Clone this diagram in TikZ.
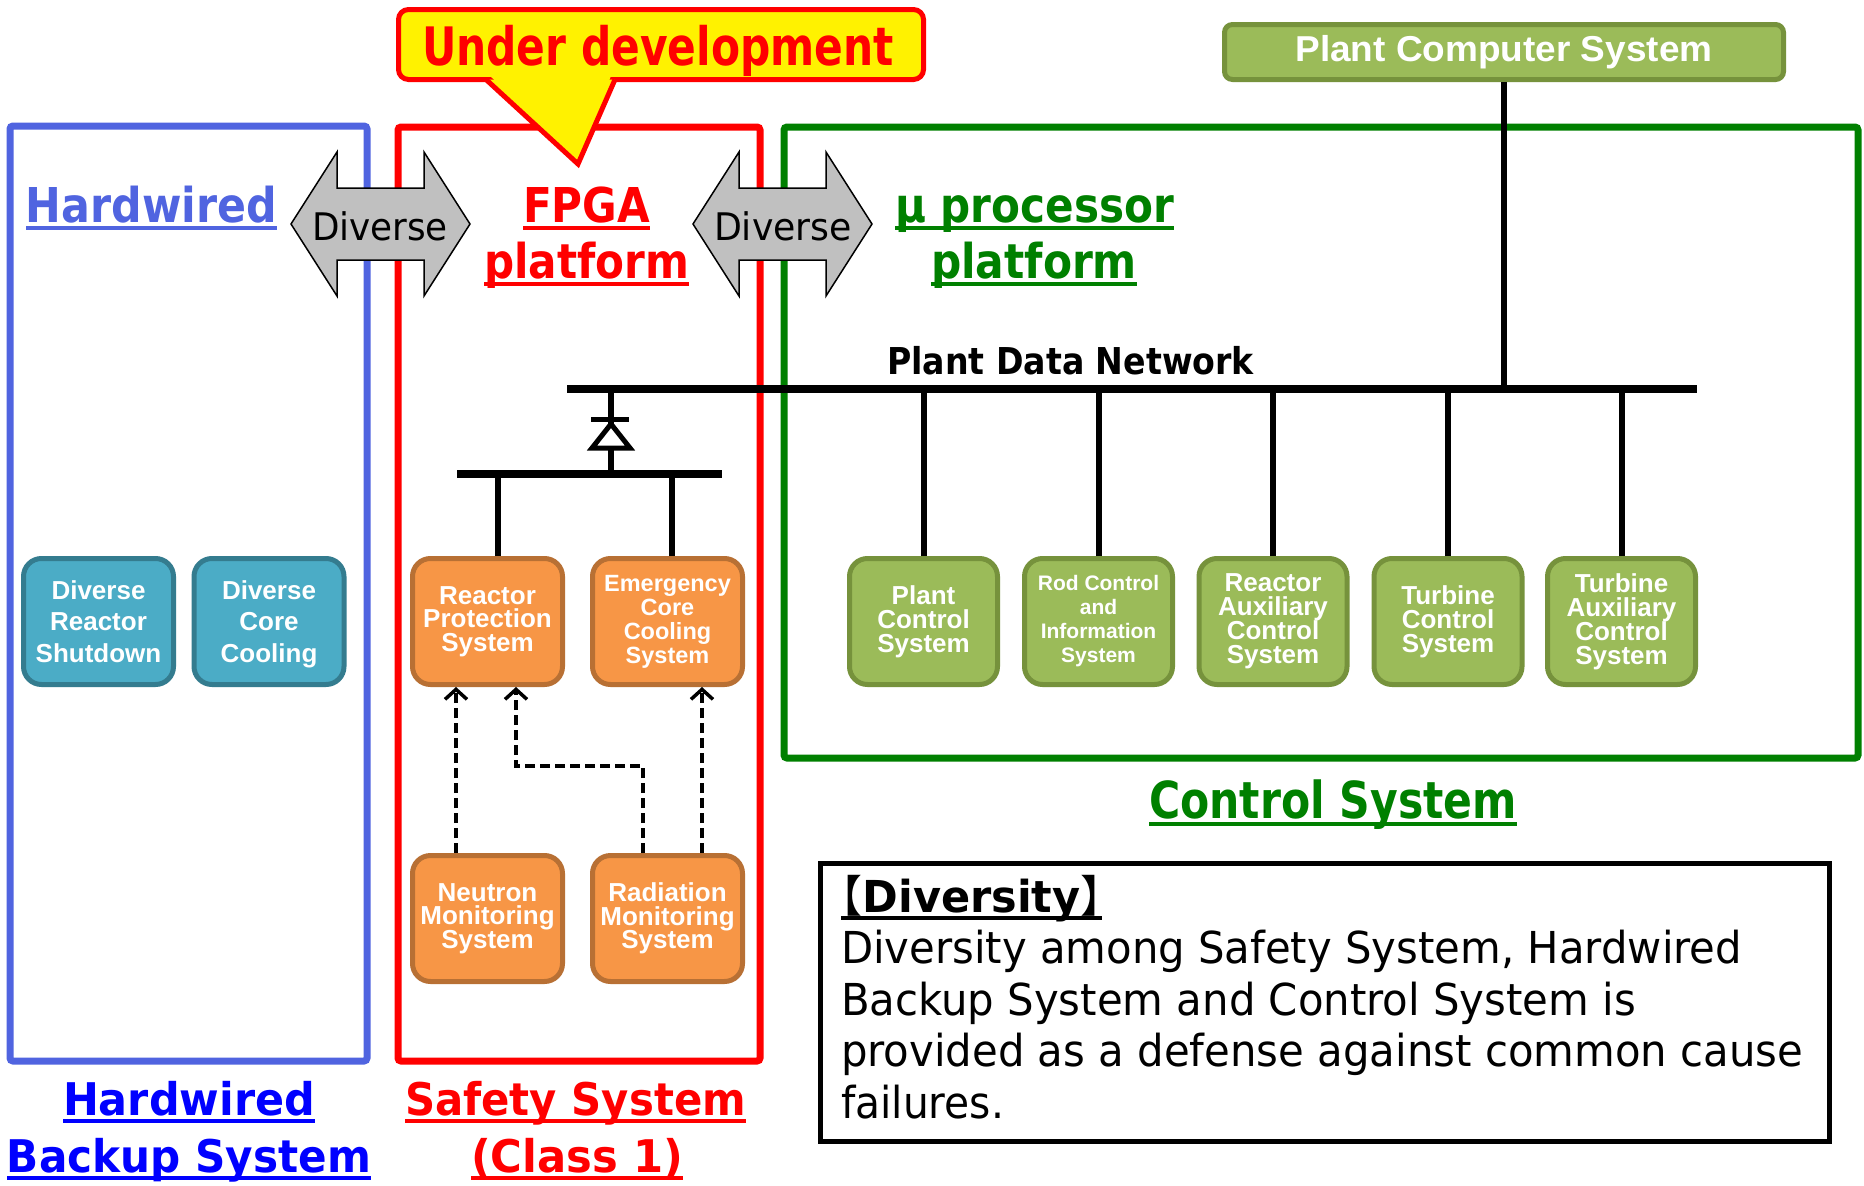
\documentclass[tikz,border=0pt]{standalone}
\usepackage{fontspec}
\usepackage{graphicx}
\setmainfont{Liberation Sans}
\newfontfamily\tah{DejaVu Sans}
\newfontfamily\cjk{Noto Sans CJK JP}
\usetikzlibrary{arrows.meta}

\definecolor{hwblue}{RGB}{80,100,224}
\definecolor{hwtext}{RGB}{0,0,255}
\definecolor{sfred}{RGB}{255,0,0}
\definecolor{csgreen}{RGB}{0,128,0}
\definecolor{tealfill}{RGB}{75,172,198}
\definecolor{tealline}{RGB}{52,124,143}
\definecolor{orgfill}{RGB}{247,150,70}
\definecolor{orgline}{RGB}{184,112,52}
\definecolor{grnfill}{RGB}{155,187,89}
\definecolor{grnline}{RGB}{118,146,60}
\definecolor{arrowgray}{RGB}{192,192,192}

% stretch a single line of text horizontally to a given width
\newcommand\fitw[2]{\resizebox{#1}{\height}{#2}}
% Tahoma-like fonts
\newcommand\tb[1]{\tah\bfseries\fontsize{#1}{#1}\selectfont}
\newcommand\tr[1]{\tah\fontsize{#1}{#1}\selectfont}
% a line whose descenders do not count for centring
\newcommand\nodepth[1]{\raisebox{0pt}[\height][0pt]{#1}}
% underline a label node
\newcommand\ulabel[2]{\draw[uline, draw=#2] ([yshift=-6pt]#1.base west) -- ([yshift=-6pt]#1.base east);}

\begin{document}
\begin{tikzpicture}[x=1pt,y=-1pt,
  lbl/.style={anchor=base west, inner sep=0pt, outer sep=0pt},
  uline/.style={line width=4.5pt},
  frame/.style={line width=7pt, rounded corners=3pt},
  sysbox/.style={draw, rounded corners=18pt, line width=5pt, minimum width=150pt,
    minimum height=126pt, inner sep=0pt, align=center, text=white},
  tealbox/.style={sysbox, fill=tealfill, draw=tealline, font=\bfseries\fontsize{26}{31.5}\selectfont},
  orgbox/.style={sysbox, fill=orgfill, draw=orgline, font=\bfseries\fontsize{26}{23.5}\selectfont},
  grnbox/.style={sysbox, minimum width=148pt, fill=grnfill, draw=grnline, font=\bfseries\fontsize{26}{24}\selectfont},
  wire/.style={line width=6pt},
  bus/.style={line width=8pt},
  dasharrow/.style={line width=3.5pt, dash pattern=on 10pt off 5pt, -{Straight Barb[length=10pt,width=22pt]}},
  diverse/.style={draw=black, line width=1.5pt, fill=arrowgray, line join=miter},
]
\lineskiplimit=-1000pt
\useasboundingbox (0,0) rectangle (1864,1186);
\fill[white] (0,0) rectangle (1864,1186);

% system frames
\draw[frame, draw=hwblue] (10,126) rectangle (367,1061);
\draw[frame, draw=sfred] (398,127) rectangle (760,1061);
\draw[frame, draw=csgreen] (784,127) rectangle (1858,758);

% "Diverse" double arrows
\draw[diverse] (291,224) -- (337,152) -- (337,188) -- (424,188) -- (424,152) -- (470,224)
  -- (424,296) -- (424,260) -- (337,260) -- (337,296) -- cycle;
\draw[diverse, shift={(402,0)}] (291,224) -- (337,152) -- (337,188) -- (424,188) -- (424,152) -- (470,224)
  -- (424,296) -- (424,260) -- (337,260) -- (337,296) -- cycle;
\node[lbl, font=\tr{38}] (dv1) at (312,240) {\fitw{136pt}{Diverse}};
\node[lbl, font=\tr{38}] (dv2) at (714,240) {\fitw{138pt}{Diverse}};

% callout
\draw[line width=5pt, draw=sfred, fill=yellow, rounded corners=10pt] (398.5,9.5) rectangle (923.5,79.5);
\draw[line width=5pt, draw=sfred, fill=yellow, line join=miter] (486,79.5) -- (578,164) -- (615,79.5);
\fill[yellow] (490,76) -- (611,76) -- (578,156) -- cycle;
\node[lbl, font=\tb{53}, text=sfred] (udev) at (422,65) {\fitw{472pt}{Under development}};

% platform titles
\node[lbl, font=\tb{48}, text=hwblue] (hwtop) at (26,222) {\fitw{251pt}{Hardwired}};
\ulabel{hwtop}{hwblue}
\node[lbl, font=\tb{48}, text=sfred] (fpga1) at (523,222) {\fitw{127pt}{FPGA}};
\ulabel{fpga1}{sfred}
\node[lbl, font=\tb{48}, text=sfred] (fpga2) at (484,278) {\fitw{205pt}{platform}};
\ulabel{fpga2}{sfred}
\node[lbl, font=\tb{48}, text=csgreen] (mp1) at (895,222) {\fitw{279pt}{µ processor}};
\ulabel{mp1}{csgreen}
\node[lbl, font=\tb{48}, text=csgreen] (mp2) at (931,278) {\fitw{206pt}{platform}};
\ulabel{mp2}{csgreen}

% system captions
\node[lbl, font=\tb{51}, text=csgreen] (cslbl) at (1149,818) {\fitw{368pt}{Control System}};
\ulabel{cslbl}{csgreen}
\node[lbl, font=\tb{45}, text=hwtext] (hb1) at (63,1115) {\fitw{252pt}{Hardwired}};
\ulabel{hb1}{hwtext}
\node[lbl, font=\tb{45}, text=hwtext] (hb2) at (7,1172) {\fitw{364pt}{Backup System}};
\ulabel{hb2}{hwtext}
\node[lbl, font=\tb{45}, text=sfred] (ss1) at (405,1115) {\fitw{341pt}{Safety System}};
\ulabel{ss1}{sfred}
\node[lbl, font=\tb{45}, text=sfred] (ss2) at (471,1172) {\fitw{212pt}{(Class 1)}};
\ulabel{ss2}{sfred}

% plant computer and data network
\node[draw=grnline, fill=grnfill, line width=5pt, rounded corners=8pt, minimum width=559pt,
  minimum height=55pt, inner sep=0pt, text=white, font=\bfseries\fontsize{36}{38}\selectfont]
  (pcs) at (1504,52) {\fitw{417pt}{Plant Computer System}};
\node[lbl, font=\tb{37}] (pdn) at (887,374) {\fitw{367pt}{Plant Data Network}};
\coordinate (busL) at (567,389);
\coordinate (busR) at (1697,389);
\draw[wire] (pcs.south) -- (pcs.south |- busL);
\draw[bus] (busL) -- (busR);

% safety network with one-way link to the plant network
\coordinate (dtop) at (611,389);
\coordinate (dbot) at (611,474);
\coordinate (sbL) at (457,474);
\coordinate (sbR) at (722,474);
\draw[wire] (dtop) -- (dbot);
\draw[line width=5pt] (591,419) -- (629,419);
\draw[line width=5pt, fill=white, line join=miter] (592,448) -- (630,448) -- (611,424) -- cycle;
\draw[bus] (sbL) -- (sbR);

% hardwired backup functions
\node[tealbox] (drs) at (98.5,621.5) {Diverse\\Reactor\\Shutdown};
\node[tealbox] (dcc) at (269,621.5) {Diverse\\Core\\\nodepth{Cooling}};

% safety systems
\node[orgbox] (rps) at (487.5,621.5) {Reactor\\Protection\\System};
\node[orgbox, font=\bfseries\fontsize{23.5}{24}\selectfont] (ecc) at (667.5,621.5) {Emergency\\Core\\Cooling\\System};
\node[orgbox] (nms) at (487.5,918.5) {Neutron\\Monitoring\\System};
\node[orgbox] (rms) at (667.5,918.5) {Radiation\\Monitoring\\System};
\draw[wire] ([xshift=10.5pt]rps.north) -- ([xshift=10.5pt]rps.north |- sbL);
\draw[wire] ([xshift=4.5pt]ecc.north) -- ([xshift=4.5pt]ecc.north |- sbL);
\draw[dasharrow] ([xshift=-31.5pt]nms.north) -- ([xshift=-31.5pt]rps.south);
\draw[dasharrow] ([xshift=-24.5pt]rms.north) -- ++(0,-87) -| ([xshift=28.5pt]rps.south);
\draw[dasharrow] ([xshift=34.5pt]rms.north) -- ([xshift=34.5pt]ecc.south);

% control systems
\node[grnbox] (plc) at (923.5,621.5) {Plant\\Control\\System};
\node[grnbox, font=\bfseries\fontsize{21}{24}\selectfont] (rcis) at (1098.5,621.5) {Rod Control\\and\\Information\\System};
\node[grnbox] (racs) at (1273,621.5) {Reactor\\Auxiliary\\Control\\System};
\node[grnbox] (tcs) at (1448,621.5) {Turbine\\Control\\System};
\node[grnbox] (tacs) at (1621.5,621.5) {Turbine\\Auxiliary\\Control\\System};
\foreach \b in {plc,rcis,racs,tcs,tacs}
  \draw[wire] (\b.north) -- (\b.north |- busL);

% diversity note
\draw[line width=5pt] (820.5,863.5) rectangle (1829.5,1141.5);
\node[lbl, font=\tb{44}] (dh) at (841,912)
  {\fitw{261pt}{{\cjk\mdseries\kern-0.5em【}Diversity{\cjk\mdseries】\kern-0.5em}}};
\ulabel{dh}{black}
\node[lbl, font=\tr{44}] (d1) at (841,963) {\fitw{901pt}{Diversity among Safety System, Hardwired}};
\node[lbl, font=\tr{44}] (d2) at (841,1015) {\fitw{795pt}{Backup System and Control System is}};
\node[lbl, font=\tr{44}] (d3) at (841,1066) {\fitw{962pt}{provided as a defense against common cause}};
\node[lbl, font=\tr{44}] (d4) at (841,1118) {\fitw{163pt}{failures.}};
\end{tikzpicture}
\end{document}
